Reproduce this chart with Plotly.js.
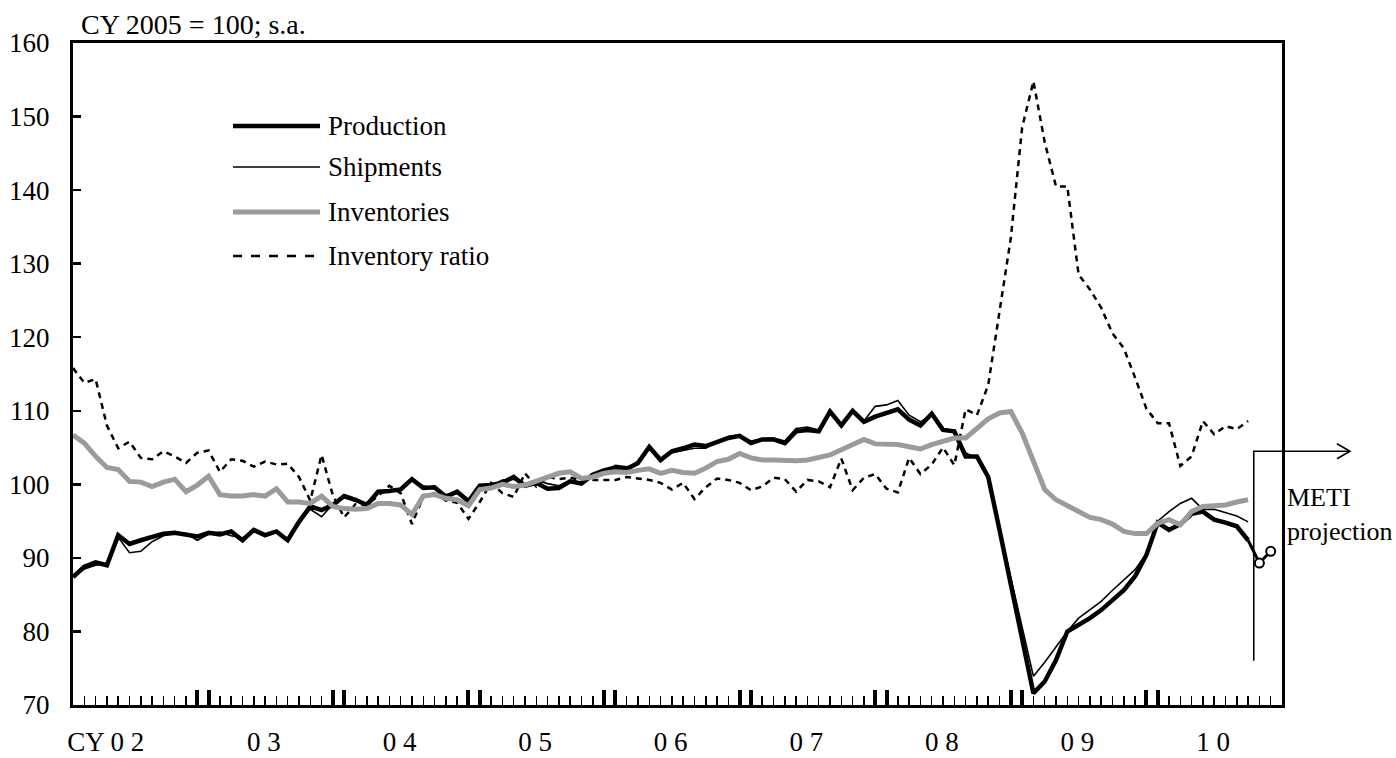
<!DOCTYPE html>
<html><head><meta charset="utf-8">
<script src="https://cdn.plot.ly/plotly-3.0.1.min.js"></script>
<style>html,body{margin:0;padding:0;background:#fff}#chart{width:1396px;height:758px}</style>
</head><body><div id="chart"></div>
<script>
// Monthly data, Jan 2002 .. Sep 2010 (index 0 = Jan 2002)
const startYear = 2002;
const yearLabels = ['CY 0 2','0 3','0 4','0 5','0 6','0 7','0 8','0 9','1 0'];
const seriesNames = ['Production','Shipments','Inventories','Inventory ratio'];
const yTicks = [70,80,90,100,110,120,130,140,150,160];

const production = [
 87.4, 88.8, 89.4, 89.0, 93.1, 91.9, 92.4, 92.9, 93.3, 93.4, 93.2, 92.9,
 93.4, 93.2, 93.6, 92.4, 93.8, 93.1, 93.6, 92.4, 94.9, 97.0, 96.5, 97.2,
 98.4, 97.9, 97.2, 99.0, 99.1, 99.3, 100.7, 99.5, 99.6, 98.3, 99.0, 97.7,
 99.8, 99.9, 100.2, 101.0, 99.8, 100.2, 99.4, 99.5, 100.4, 100.1, 101.3, 101.9,
 102.3, 102.1, 102.9, 105.1, 103.3, 104.5, 104.9, 105.4, 105.2, 105.8, 106.3, 106.6,
 105.6, 106.1, 106.1, 105.6, 107.2, 107.4, 107.2, 109.9, 108.0, 110.0, 108.5, 109.2,
 109.7, 110.2, 108.8, 108.0, 109.6, 107.4, 107.2, 103.8, 103.8, 101.0, 93.8, 86.2,
 78.5, 71.6, 73.2, 76.1, 80.0, 80.9, 81.8, 82.9, 84.3, 85.6, 87.5, 90.4,
 94.8, 93.8, 94.6, 96.0, 96.3, 95.2, 94.8, 94.3, 92.4
];
// METI production forecast survey, Oct & Nov 2010
const productionProjection = [89.3, 90.9];

const shipments = [
 87.5, 88.5, 89.0, 89.2, 92.8, 90.7, 90.9, 92.2, 93.0, 93.3, 93.3, 92.4,
 93.2, 93.5, 93.0, 92.7, 93.6, 92.9, 93.5, 92.5, 94.8, 96.6, 95.6, 97.3,
 98.2, 97.7, 97.5, 98.8, 99.0, 99.2, 100.5, 99.8, 99.4, 98.6, 98.8, 97.9,
 99.6, 99.8, 100.6, 100.7, 100.0, 100.6, 100.1, 99.8, 100.5, 100.3, 101.1, 101.7,
 102.6, 102.4, 102.7, 104.8, 103.5, 104.3, 104.6, 104.9, 104.9, 105.8, 106.5, 106.7,
 105.9, 106.2, 106.3, 105.9, 107.6, 107.8, 107.4, 110.0, 108.2, 110.0, 108.6, 110.6,
 110.8, 111.4, 109.4, 108.5, 109.5, 107.6, 107.3, 104.3, 103.5, 100.7, 94.0, 87.2,
 80.5, 73.9, 75.8, 77.9, 80.0, 81.8, 82.9, 84.1, 85.6, 87.0, 88.4, 90.6,
 95.0, 96.3, 97.4, 98.1, 96.6, 96.6, 96.2, 95.7, 94.9
];

const inventories = [
 106.7, 105.6, 103.8, 102.3, 102.0, 100.4, 100.3, 99.7, 100.3, 100.7, 99.0, 99.9,
 101.1, 98.6, 98.4, 98.4, 98.6, 98.4, 99.4, 97.6, 97.6, 97.4, 98.4, 97.0,
 96.7, 96.6, 96.7, 97.4, 97.4, 97.2, 95.9, 98.4, 98.6, 98.1, 97.9, 97.1,
 99.3, 99.5, 100.0, 99.7, 99.9, 100.4, 101.0, 101.5, 101.7, 100.8, 101.0, 101.5,
 101.7, 101.6, 101.9, 102.1, 101.5, 101.9, 101.6, 101.5, 102.2, 103.1, 103.4, 104.2,
 103.6, 103.3, 103.3, 103.2, 103.2, 103.3, 103.7, 104.0, 104.7, 105.4, 106.1, 105.5,
 105.4, 105.4, 105.1, 104.8, 105.4, 105.9, 106.3, 106.3, 107.6, 108.9, 109.7, 109.9,
 107.0, 103.3, 99.3, 97.9, 97.1, 96.3, 95.5, 95.2, 94.6, 93.6, 93.3, 93.3,
 94.7, 95.2, 94.5, 96.3, 97.0, 97.1, 97.2, 97.6, 97.9
];

const inventoryRatio = [
 115.8, 113.8, 114.3, 108.0, 104.9, 105.8, 103.6, 103.4, 104.5, 103.8, 102.9, 104.3,
 104.6, 101.7, 103.4, 103.2, 102.4, 103.1, 102.7, 102.8, 101.0, 97.8, 104.0, 98.5,
 95.5, 97.3, 97.2, 98.4, 99.8, 98.8, 94.6, 98.3, 98.8, 97.8, 97.5, 95.3,
 97.6, 100.2, 98.8, 98.3, 101.5, 99.7, 101.0, 100.7, 100.9, 100.6, 100.6, 100.6,
 100.6, 101.0, 100.8, 100.6, 100.2, 99.3, 100.2, 98.0, 99.6, 100.8, 100.6, 100.2,
 99.2, 99.7, 100.9, 100.7, 99.0, 100.6, 100.4, 99.6, 103.5, 99.2, 100.9, 101.4,
 99.4, 98.9, 103.6, 101.4, 102.7, 105.0, 102.6, 110.2, 109.4, 113.5, 123.5, 133.5,
 148.5, 154.8, 146.5, 140.5, 140.5, 128.5, 126.5, 124.0, 120.5, 118.5, 114.5, 110.3,
 108.3, 108.3, 102.5, 103.8, 108.6, 106.8, 107.9, 107.5, 108.6
];

// ---- build ----
const FONT = 'Liberation Serif, Times New Roman, serif';
const nYears = yearLabels.length;
const lastIdx = nYears * 12 - 1;               // Dec 2010
const idx = a => a.map((_, i) => i);
const nActual = production.length;
const projX = productionProjection.map((_, k) => nActual + k);

// tick positions: thick ticks at each Dec/Jan boundary and axis ends
const thick = [0];
for (let y = 1; y < nYears; y++) { thick.push(12 * y - 1, 12 * y); }
thick.push(lastIdx);
const minorVals = [];
for (let i = 0; i <= lastIdx; i++) if (!thick.includes(i)) minorVals.push(i);
const labelPos = yearLabels.map((_, k) => k === 0 ? 2.9 : 12 * k + 4.9);

const INV_COLOR = '#9b9b9b';
const traces = [
  {x: idx(inventoryRatio), y: inventoryRatio, mode: 'lines', name: seriesNames[3],
   line: {color: '#000', width: 2.5, dash: '6px,5px'}, showlegend: false},
  {x: idx(production), y: production, mode: 'lines', name: seriesNames[0],
   line: {color: '#000', width: 4.5}, showlegend: false},
  {x: [nActual - 1].concat(projX), y: [production[nActual - 1]].concat(productionProjection),
   mode: 'lines', line: {color: '#000', width: 3}, showlegend: false, hoverinfo: 'skip'},
  {x: idx(shipments), y: shipments, mode: 'lines', name: seriesNames[1],
   line: {color: '#000', width: 1.6}, showlegend: false},
  {x: idx(inventories), y: inventories, mode: 'lines', name: seriesNames[2],
   line: {color: INV_COLOR, width: 5}, showlegend: false},
  {x: projX, y: productionProjection, mode: 'markers', name: 'METI projection',
   marker: {symbol: 'circle', size: 9, color: '#fff', line: {color: '#000', width: 2}}, showlegend: false},
  {x: [], y: [], xaxis: 'x2', showlegend: false}
];

// legend drawn inside the plot (paper coords from pixel geometry)
const L = 73, R = 1282, T = 43, B = 705;
const px = v => (v - L) / (R - L);
const py = v => (B - v) / (B - T);
const legendY = [126, 167, 212, 256];
const legendStyle = [
  {color: '#000', width: 4.5},
  {color: '#000', width: 1.6},
  {color: INV_COLOR, width: 5},
  {color: '#000', width: 2.5, dash: 'dash'}
];
const shapes = [];
const annotations = [];
seriesNames.forEach((n, k) => {
  shapes.push({type: 'line', xref: 'paper', yref: 'paper', x0: px(233), x1: px(320),
    y0: py(legendY[k]), y1: py(legendY[k]), line: legendStyle[k]});
  annotations.push({xref: 'paper', yref: 'paper', x: px(326), y: py(legendY[k]),
    xanchor: 'left', yanchor: 'middle', showarrow: false, text: n,
    font: {family: FONT, size: 27, color: '#000'}});
});

// projection boundary with arrow
const bx = (nActual - 0.5) / lastIdx;     // between Sep and Oct 2010
const yBot = (76 - 70) / 90, yTop = (104.5 - 70) / 90;
const xEnd = px(1350);
shapes.push({type: 'path', xref: 'paper', yref: 'paper',
  path: `M ${bx},${yBot} L ${bx},${yTop} L ${xEnd},${yTop}`,
  line: {color: '#000', width: 1.6}});
const ah = 13 / (R - L), aw = 7.5 / (B - T);
shapes.push({type: 'path', xref: 'paper', yref: 'paper',
  path: `M ${xEnd - ah},${yTop + aw} L ${xEnd},${yTop} L ${xEnd - ah},${yTop - aw}`,
  line: {color: '#000', width: 1.6}});
annotations.push({xref: 'paper', yref: 'paper', x: px(1285), y: py(514),
  xanchor: 'left', yanchor: 'middle', align: 'left', showarrow: false,
  text: 'METI<br>projection', font: {family: FONT, size: 26, color: '#000'}});
annotations.push({xref: 'paper', yref: 'paper', x: px(79), y: py(24),
  xanchor: 'left', yanchor: 'middle', showarrow: false,
  text: 'CY 2005 = 100; s.a.', font: {family: FONT, size: 28, color: '#000'}});

const layout = {
  width: 1396, height: 758,
  margin: {l: L, r: 1396 - R, t: T, b: 758 - B},
  paper_bgcolor: '#fff', plot_bgcolor: '#fff',
  font: {family: FONT, size: 26, color: '#000'},
  showlegend: false,
  xaxis: {range: [0, lastIdx], showgrid: false, zeroline: false,
    showline: true, linecolor: '#000', linewidth: 3, mirror: true,
    tickmode: 'array', tickvals: thick, ticktext: thick.map(() => ''),
    ticks: 'inside', ticklen: 15, tickwidth: 4, tickcolor: '#000', showticklabels: false,
    minor: {tickmode: 'array', tickvals: minorVals, ticks: 'inside', ticklen: 9, tickwidth: 1.5, tickcolor: '#000', showgrid: false}},
  xaxis2: {overlaying: 'x', anchor: 'y', side: 'bottom', range: [0, lastIdx],
    showgrid: false, zeroline: false, showline: false,
    tickmode: 'array', tickvals: labelPos, ticktext: yearLabels, ticks: '',
    ticklabelstandoff: 18, tickfont: {family: FONT, size: 27, color: '#000'}},
  yaxis: {range: [70, 160], showgrid: false, zeroline: false,
    showline: true, linecolor: '#000', linewidth: 3, mirror: true,
    tickmode: 'array', tickvals: yTicks, ticks: 'inside', ticklen: 8, tickwidth: 2.5, tickcolor: '#000',
    ticklabelstandoff: 15, tickfont: {family: FONT, size: 27, color: '#000'}},
  shapes: shapes,
  annotations: annotations
};

Plotly.newPlot('chart', traces, layout, {displayModeBar: false, staticPlot: true});
</script>
</body></html>
